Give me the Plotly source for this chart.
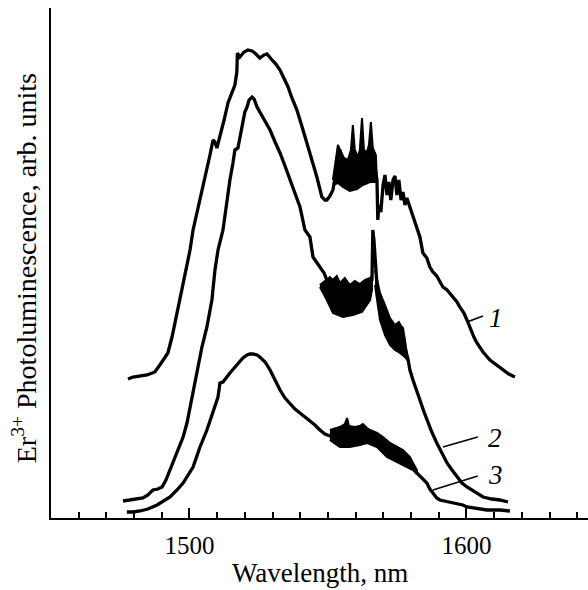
import plotly.graph_objects as go

# ---------------- data (wavelength nm, PL intensity arb. units) ----------------
c1_x = [1477.8, 1479.6, 1484.7, 1487.5, 1489.3, 1492.2, 1493.7, 1495.5, 1497.3, 1499.1,
        1500.2, 1501.3, 1502.7, 1503.8, 1505.2, 1506.3, 1507.4, 1508.5, 1509.2, 1509.9,
        1511.0, 1512.5, 1513.9, 1515.3, 1516.4, 1517.1, 1517.3, 1518.2, 1519.7, 1521.1,
        1522.6, 1523.6, 1525.4, 1526.9, 1528.0, 1529.8, 1531.2, 1532.7, 1534.1, 1535.6,
        1537.0, 1538.8, 1541.0, 1543.5, 1546.0, 1547.8, 1548.9, 1549.6, 1550.7, 1551.8,
        1553.2, 1554.3, 1556.1, 1557.9, 1559.7, 1561.5, 1563.4, 1565.2, 1567.0, 1567.7,
        1568.0, 1568.4, 1569.1, 1569.9, 1570.6, 1571.3, 1572.0, 1572.7, 1573.5, 1574.2,
        1574.9, 1575.6, 1576.4, 1577.1, 1577.8, 1578.5, 1579.6, 1580.7, 1582.1, 1583.2,
        1584.3, 1585.7, 1586.8, 1587.9, 1589.3, 1590.4, 1591.5, 1593.0, 1594.0, 1595.1,
        1596.6, 1597.6, 1599.1, 1600.2, 1601.3, 1602.7, 1603.8, 1606.0, 1608.5, 1611.0,
        1613.2, 1615.3, 1617.5]
c1_y = [27.8, 28.2, 28.6, 29.2, 30.6, 33.0, 36.2, 41.0, 45.6, 50.2,
        53.6, 57.6, 61.0, 63.6, 66.6, 69.2, 72.6, 75.6, 75.2, 74.0,
        76.2, 79.6, 83.0, 85.0, 86.6, 89.2, 93.0, 92.2, 93.2, 93.6,
        93.4, 93.0, 92.0, 92.6, 92.8, 91.6, 90.8, 89.6, 88.0, 86.2,
        84.0, 81.6, 77.6, 73.0, 68.2, 64.2, 63.6, 63.6, 64.4, 65.6,
        69.6, 73.6, 70.0, 69.0, 69.6, 70.0, 70.4, 71.0, 70.0, 67.6,
        59.6, 62.6, 61.2, 66.6, 68.6, 64.6, 67.2, 63.6, 67.6, 68.4,
        64.6, 67.6, 63.6, 65.2, 62.6, 64.0, 62.2, 60.2, 58.2, 56.2,
        53.0, 52.0, 50.2, 49.2, 48.4, 47.2, 46.2, 45.6, 45.0, 44.2,
        43.2, 42.2, 41.0, 39.6, 38.0, 36.2, 35.0, 33.2, 31.6, 30.6,
        29.6, 28.8, 28.2]

# noisy band of curve 1 (upper / lower envelope)
b1_up_x = [1551.8, 1552.5, 1553.6, 1554.7, 1555.8, 1557.2, 1558.3, 1559.0, 1559.7, 1560.8,
           1561.5, 1562.3, 1563.0, 1564.1, 1564.8, 1565.5, 1566.2, 1567.3, 1567.7]
b1_up_y = [67.6, 70.6, 74.6, 73.2, 72.0, 71.6, 73.6, 78.6, 73.6, 72.2,
           73.6, 80.0, 73.6, 73.2, 74.6, 79.2, 74.0, 72.6, 68.6]
b1_lo_x = [1551.8, 1553.6, 1555.4, 1557.9, 1560.5, 1562.6, 1565.2, 1567.7]
b1_lo_y = [66.6, 67.0, 66.2, 65.4, 65.8, 66.6, 67.2, 67.2]

c2_x = [1476.0, 1478.5, 1481.0, 1483.2, 1485.0, 1486.8, 1488.6, 1490.1, 1491.5, 1493.0,
        1494.4, 1495.8, 1497.7, 1499.1, 1500.9, 1502.7, 1504.5, 1506.3, 1508.1, 1509.2,
        1510.3, 1512.1, 1513.2, 1514.6, 1515.7, 1516.4, 1517.5, 1518.2, 1519.0, 1520.0,
        1520.8, 1521.5, 1522.6, 1523.3, 1524.4, 1525.4, 1526.5, 1527.6, 1529.1, 1530.9,
        1532.7, 1534.5, 1536.3, 1538.1, 1539.9, 1541.7, 1543.5, 1544.6, 1546.0, 1547.1,
        1548.6, 1549.6, 1551.8, 1554.3, 1557.9, 1561.5, 1564.4, 1565.9, 1566.2, 1566.6,
        1567.0, 1567.7, 1568.8, 1570.6, 1572.4, 1574.2, 1576.0, 1577.8, 1578.9, 1579.6,
        1580.7, 1582.1, 1583.2, 1584.7, 1585.7, 1587.5, 1589.3, 1591.2, 1593.0, 1594.8,
        1596.6, 1598.4, 1600.2, 1603.1, 1606.0, 1609.2, 1612.1, 1615.0]
c2_y = [3.4, 3.6, 3.8, 4.0, 4.6, 5.6, 5.8, 6.2, 7.6, 9.6,
        11.6, 13.6, 16.2, 19.0, 24.2, 29.0, 34.2, 38.2, 43.6, 49.6,
        53.6, 57.6, 62.6, 67.6, 71.0, 73.6, 74.0, 76.0, 78.2, 81.2,
        82.2, 83.6, 84.2, 83.8, 82.2, 81.2, 80.2, 79.0, 77.6, 75.2,
        73.0, 70.4, 67.6, 65.0, 62.2, 57.6, 56.2, 52.2, 51.0, 50.2,
        49.0, 47.6, 45.6, 44.0, 43.6, 44.0, 45.6, 47.6, 57.6, 55.6,
        51.2, 46.6, 43.6, 40.0, 37.6, 36.2, 35.6, 34.0, 31.8, 29.6,
        27.6, 25.6, 23.6, 21.2, 19.6, 17.2, 15.0, 13.0, 11.0, 9.6,
        8.2, 7.0, 6.2, 5.2, 4.2, 3.8, 3.6, 3.2]

b2a_up_x = [1547.1, 1549.6, 1550.7, 1551.8, 1553.2, 1554.3, 1556.1, 1557.9, 1559.7, 1561.5,
            1563.4, 1565.2, 1565.9]
b2a_up_y = [46.6, 47.6, 48.2, 47.6, 48.4, 47.0, 48.0, 46.6, 47.4, 46.8,
            47.6, 48.0, 48.4]
b2a_lo_x = [1547.1, 1549.6, 1551.8, 1555.4, 1559.0, 1562.3, 1565.2, 1565.9]
b2a_lo_y = [46.2, 43.6, 41.0, 40.2, 40.6, 41.2, 43.6, 45.6]

b2b_up_x = [1567.0, 1568.0, 1568.8, 1570.6, 1572.4, 1574.2, 1575.6, 1576.4, 1577.1, 1577.8, 1578.9]
b2b_up_y = [49.6, 46.6, 45.0, 42.6, 40.0, 38.6, 39.2, 38.4, 38.0, 35.6, 32.0]
b2b_lo_x = [1567.0, 1568.0, 1568.8, 1570.6, 1572.4, 1574.2, 1576.0, 1577.8, 1578.9]
b2b_lo_y = [46.6, 42.6, 39.6, 36.6, 34.6, 33.6, 33.0, 32.2, 31.4]

c3_x = [1477.4, 1479.6, 1482.1, 1485.0, 1488.3, 1490.4, 1493.0, 1495.5, 1497.7, 1501.3,
        1503.8, 1506.3, 1508.5, 1510.3, 1511.0, 1512.1, 1514.6, 1517.1, 1519.3, 1520.8,
        1521.8, 1522.9, 1524.4, 1525.4, 1527.3, 1529.1, 1530.9, 1532.7, 1534.5, 1536.3,
        1538.1, 1539.9, 1541.7, 1543.5, 1545.3, 1547.1, 1548.9, 1550.7, 1554.3, 1557.9,
        1561.5, 1565.2, 1568.8, 1572.4, 1576.0, 1579.6, 1582.1, 1583.9, 1585.7, 1586.8,
        1587.9, 1589.3, 1590.4, 1592.2, 1594.0, 1596.6, 1598.7, 1600.2, 1603.1, 1607.4,
        1612.1, 1615.7]
c3_y = [1.2, 1.2, 1.4, 1.8, 2.6, 3.4, 4.2, 5.6, 7.0, 10.2,
        14.2, 17.6, 21.0, 24.2, 27.0, 27.2, 29.0, 30.6, 32.0, 32.6,
        32.8, 32.8, 32.6, 32.2, 31.2, 29.6, 27.6, 25.6, 24.0, 22.8,
        21.8, 21.0, 20.2, 19.6, 18.6, 17.6, 16.8, 16.4, 16.2, 16.2,
        16.4, 16.4, 15.2, 13.6, 12.4, 11.2, 9.0, 8.0, 7.0, 5.8,
        5.0, 4.0, 3.6, 3.4, 3.2, 3.0, 2.6, 2.2, 2.0, 1.6,
        1.6, 1.4]

b3_up_x = [1550.7, 1554.3, 1556.1, 1556.9, 1557.6, 1559.7, 1561.5, 1562.6, 1564.1, 1565.2,
           1567.7, 1569.9, 1572.4, 1574.9, 1577.1, 1579.6, 1580.7, 1582.1]
b3_up_y = [17.6, 18.2, 18.8, 20.0, 18.4, 18.2, 18.4, 18.8, 18.0, 17.6,
           17.0, 16.2, 15.0, 14.2, 13.6, 12.2, 11.0, 9.6]
b3_lo_x = [1550.7, 1554.3, 1557.9, 1561.5, 1564.1, 1567.7, 1571.3, 1574.9, 1578.5, 1580.7, 1582.1]
b3_lo_y = [15.6, 14.2, 14.2, 14.6, 15.0, 14.2, 12.2, 11.2, 10.2, 9.6, 8.8]

curve_labels = ["1", "2", "3"]
label_pos_x = [1607.3, 1606.9, 1606.9]
label_pos_y = [40.0, 16.0, 8.6]
leader_x0 = [1600.2, 1591.5, 1587.9]
leader_y0 = [39.2, 14.2, 5.6]
leader_x1 = [1606.0, 1604.1, 1604.1]
leader_y1 = [40.4, 16.2, 8.4]

x_range = [1450, 1643.9]
y_range = [0, 102]

# ---------------- figure ----------------
fig = go.Figure()
LW = 3.3
for xs, ys in [(c1_x, c1_y), (c2_x, c2_y), (c3_x, c3_y)]:
    fig.add_trace(go.Scatter(x=xs, y=ys, mode="lines",
                             line=dict(color="black", width=LW), hoverinfo="skip"))

for ux, uy, lx, ly in [(b1_up_x, b1_up_y, b1_lo_x, b1_lo_y),
                       (b2a_up_x, b2a_up_y, b2a_lo_x, b2a_lo_y),
                       (b2b_up_x, b2b_up_y, b2b_lo_x, b2b_lo_y),
                       (b3_up_x, b3_up_y, b3_lo_x, b3_lo_y)]:
    fig.add_trace(go.Scatter(x=ux + lx[::-1], y=uy + ly[::-1], mode="lines",
                             fill="toself", fillcolor="black",
                             line=dict(color="black", width=2), hoverinfo="skip"))

for i in range(3):
    fig.add_trace(go.Scatter(x=[leader_x0[i], leader_x1[i]], y=[leader_y0[i], leader_y1[i]],
                             mode="lines", line=dict(color="black", width=1.6),
                             hoverinfo="skip"))
    fig.add_annotation(x=label_pos_x[i], y=label_pos_y[i], text=curve_labels[i],
                       showarrow=False, xanchor="left", yanchor="middle",
                       font=dict(family="Liberation Serif", size=27, color="black",
                                 style="italic"))

fig.add_annotation(xref="paper", yref="paper", x=-0.05, y=0.49,
                   text="Er<sup>3+</sup> Photoluminescence, arb. units",
                   textangle=-90, showarrow=False, xanchor="center", yanchor="middle",
                   font=dict(family="Liberation Serif", size=28, color="black"))
fig.add_annotation(xref="paper", yref="paper", x=0.5, y=-0.108,
                   text="Wavelength, nm", showarrow=False,
                   xanchor="center", yanchor="middle",
                   font=dict(family="Liberation Serif", size=27, color="black"))

fig.update_layout(
    width=588, height=590,
    margin=dict(l=51, r=0, t=8, b=72),
    plot_bgcolor="white", paper_bgcolor="white",
    showlegend=False,
    xaxis=dict(range=x_range, showgrid=False, zeroline=False,
               showline=True, linecolor="black", linewidth=2,
               tickmode="linear", tick0=1500, dtick=100,
               ticks="inside", ticklen=10, tickwidth=1.5, tickcolor="black",
               ticklabelstandoff=4,
               tickfont=dict(family="Liberation Serif", size=25, color="black"),
               minor=dict(dtick=10, tick0=1500, ticks="inside", ticklen=6,
                          tickwidth=1.5, tickcolor="black", showgrid=False)),
    yaxis=dict(range=y_range, showgrid=False, zeroline=False,
               showline=True, linecolor="black", linewidth=2,
               ticks="", showticklabels=False),
)

fig.write_html("out.html", config={"displayModeBar": False},
               post_script="document.body.style.margin='0px';"
                           "document.body.style.overflow='hidden';")
